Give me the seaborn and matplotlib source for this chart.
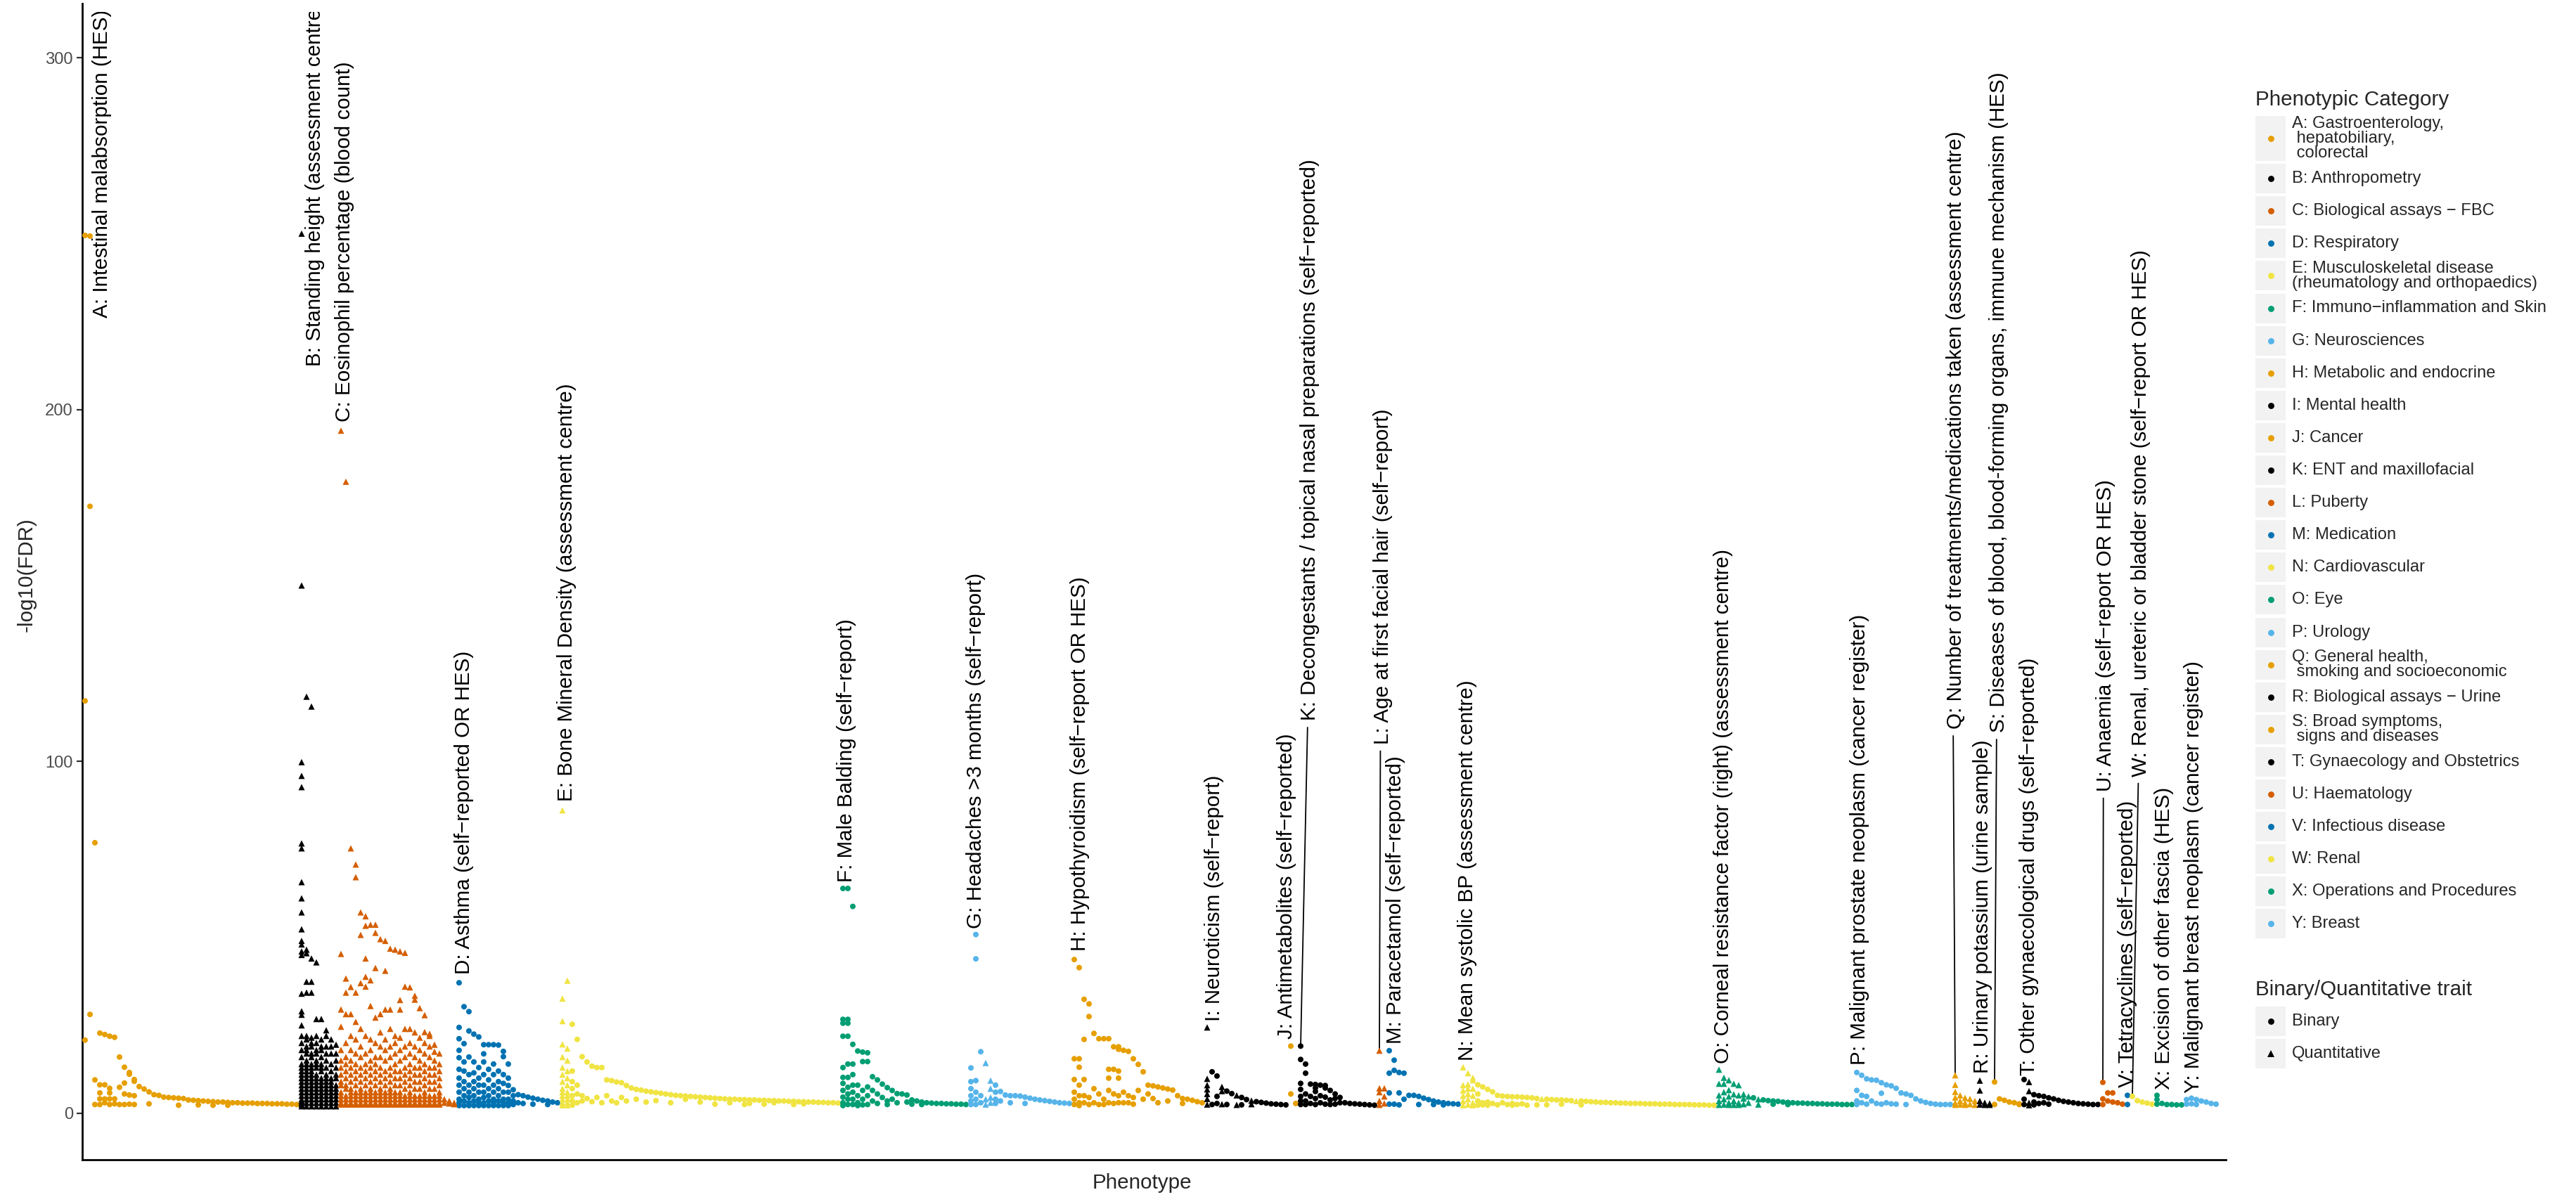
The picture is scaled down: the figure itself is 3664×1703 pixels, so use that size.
import numpy as np
import pandas as pd
import matplotlib
matplotlib.use("Agg")
import matplotlib.pyplot as plt
import seaborn as sns
from matplotlib.patches import Rectangle
from matplotlib.lines import Line2D

sns.set_theme(style="white")
plt.rcParams["font.family"] = ["Liberation Sans", "DejaVu Sans"]

W, H = 3664, 1703

# ---------------------------------------------------------------- categories
CATEGORIES = list("ABCDEFGHIJKLMNOPQRSTUVWXY")
CAT_NAMES = [
    "A: Gastroenterology,\n hepatobiliary,\n colorectal",
    "B: Anthropometry",
    "C: Biological assays \u2212 FBC",
    "D: Respiratory",
    "E: Musculoskeletal disease\n(rheumatology and orthopaedics)",
    "F: Immuno\u2212inflammation and Skin",
    "G: Neurosciences",
    "H: Metabolic and endocrine",
    "I: Mental health",
    "J: Cancer",
    "K: ENT and maxillofacial",
    "L: Puberty",
    "M: Medication",
    "N: Cardiovascular",
    "O: Eye",
    "P: Urology",
    "Q: General health,\n smoking and socioeconomic",
    "R: Biological assays \u2212 Urine",
    "S: Broad symptoms,\n signs and diseases",
    "T: Gynaecology and Obstetrics",
    "U: Haematology",
    "V: Infectious disease",
    "W: Renal",
    "X: Operations and Procedures",
    "Y: Breast",
]
CAT_COLORS = [
    "#E69F00", "#000000", "#D55E00", "#0072B2", "#F0E442", "#009E73", "#56B4E9",
    "#E69F00", "#000000", "#E69F00", "#000000", "#D55E00", "#0072B2", "#F0E442",
    "#009E73", "#56B4E9", "#E69F00", "#000000", "#E69F00", "#000000", "#D55E00",
    "#0072B2", "#F0E442", "#009E73", "#56B4E9",
]

# top phenotype per category
TOP_LABELS = [
    "A: Intestinal malabsorption (HES)",
    "B: Standing height (assessment centre)",
    "C: Eosinophil percentage (blood count)",
    "D: Asthma (self\u2212reported OR HES)",
    "E: Bone Mineral Density (assessment centre)",
    "F: Male Balding (self\u2212report)",
    "G: Headaches >3 months (self\u2212report)",
    "H: Hypothyroidism (self\u2212report OR HES)",
    "I: Neuroticism (self\u2212report)",
    "J: Antimetabolites (self\u2212reported)",
    "K: Decongestants / topical nasal preparations (self\u2212reported)",
    "L: Age at first facial hair (self\u2212report)",
    "M: Paracetamol (self\u2212reported)",
    "N: Mean systolic BP (assessment centre)",
    "O: Corneal resistance factor (right) (assessment centre)",
    "P: Malignant prostate neoplasm (cancer register)",
    "Q: Number of treatments/medications taken (assessment centre)",
    "R: Urinary potassium (urine sample)",
    "S: Diseases of blood, blood-forming organs, immune mechanism (HES)",
    "T: Other gynaecological drugs (self\u2212reported)",
    "U: Anaemia (self\u2212report OR HES)",
    "V: Tetracyclines (self\u2212reported)",
    "W: Renal, ureteric or bladder stone (self\u2212report OR HES)",
    "X: Excision of other fascia (HES)",
    "Y: Malignant breast neoplasm (cancer register)",
]

# ---------------------------------------------------------------- -log10(FDR)
# one inner list per phenotype position (all associations at that phenotype)
A_VALS = [
    [249.5, 117.2, 20.8], [249.3, 172.5, 28.1], [76.9, 9.5, 2.5],
    [22.8, 8.1, 5.8, 4.1, 2.5], [22.4, 8.1, 4.1, 3.0], [21.9, 7.1, 5.8, 4.1, 2.5],
    [21.6, 4.1, 2.7], [16.0, 7.4, 2.5], [13.1, 8.6, 5.5, 2.5], [11.6, 11.1, 5.2, 2.6],
    [9.6, 9.1, 5.0, 2.5], [7.6], [6.9], [6.1, 2.7], [5.3], [5.1], [4.6], [4.5], [4.4],
    [4.3, 2.3], [4.2], [3.8], [3.7], [3.6, 2.4], [3.5], [3.4], [3.3, 2.3], [3.2], [3.2],
    [3.1, 2.3], [3.0], [3.0], [2.9], [2.9], [2.9], [2.8], [2.8], [2.8], [2.7], [2.7],
    [2.7], [2.6], [2.6], [2.5],
]
B_VALS = [
    [250, 150, 99.8, 95.9, 92.7, 76.7, 75.3, 65.7, 61.1, 57.1, 52.3, 49.0, 48.0, 46.0,
     45.0, 34.0, 29.0, 28.0, 25.0, 22.0, 20, 18, 16, 14, 13, 12, 11, 10, 9, 8, 7, 6, 5,
     4, 3.5, 3, 2.5, 2],
    [118.4, 46.5, 45.5, 37.4, 34.3, 22, 21, 19, 18, 17, 15, 14, 13, 12, 11, 10, 9, 8, 7,
     6, 5, 4, 3, 2],
    [115.6, 44, 37.4, 34.3, 21.5, 20, 19, 17, 16, 14, 13, 12, 11, 10, 9, 8, 7, 6, 5, 4,
     3, 2],
    [42.9, 26.8, 22, 20, 18, 17, 15, 14, 13, 11, 10, 9, 8, 7, 6, 5, 4, 3, 2],
    [26.8, 21, 19, 18, 16, 14, 13, 12, 10, 9, 8, 7, 6, 5, 4, 3, 2],
    [23.6, 22, 19, 17, 15, 13, 11, 10, 9, 8, 7, 6, 5, 4, 3, 2],
    [21, 19, 17, 14, 12, 10, 9, 8, 7, 6, 5, 4, 3, 2],
    [19.5, 17, 15, 13, 11, 10, 8, 7, 6, 5, 4, 3, 2],
]
C_VALS = [
    [194, 45.3, 29.5, 24.6, 18, 15, 13, 11, 9, 8, 6, 5, 4, 3, 2.5],
    [179.5, 38.3, 34.3, 28.2, 20, 16, 14, 12, 10, 8, 7, 5, 4, 3, 2.5],
    [75.3, 35.9, 28.2, 22, 18, 15, 13, 11, 9, 7, 6, 5, 4, 3, 2.5],
    [70.7, 67.1, 34.3, 26, 21, 17, 14, 12, 10, 8, 6, 5, 4, 3, 2.5],
    [57.1, 50.7, 37, 24, 19, 16, 13, 11, 9, 7, 6, 5, 4, 3, 2.5],
    [56, 53.3, 44, 38.8, 36, 22, 17, 14, 12, 10, 8, 6, 5, 4, 3, 2.5],
    [53.6, 37.8, 30.5, 21, 18, 15, 13, 11, 9, 7, 6, 5, 4, 3, 2.5],
    [53.6, 51.3, 41.3, 27.2, 20, 16, 14, 12, 10, 8, 6, 5, 4, 3, 2.5],
    [49.5, 28.2, 23, 19, 16, 13, 11, 9, 7, 6, 5, 4, 3, 2.5],
    [49, 40.5, 29.5, 21, 18, 15, 12, 10, 8, 6, 5, 4, 3, 2.5],
    [46.8, 29.5, 24, 19, 16, 13, 11, 9, 7, 6, 5, 4, 3, 2.5],
    [46.5, 22, 20, 17, 14, 12, 10, 8, 6, 5, 4, 3, 2.5],
    [46, 32.2, 29.5, 21.5, 18, 15, 12, 10, 8, 6, 5, 4, 3, 2.5],
    [45.6, 36, 24, 19, 16, 13, 11, 9, 7, 5, 4, 3, 2.5],
    [35.8, 24, 20, 17, 14, 12, 10, 8, 6, 5, 4, 3, 2.5],
    [33.4, 32.3, 23, 19, 16, 13, 11, 9, 7, 5, 4, 3, 2.5],
    [29.9, 21.5, 18, 15, 13, 11, 9, 7, 5, 4, 3, 2.5],
    [27.9, 23.1, 20, 17, 14, 12, 10, 8, 6, 5, 4, 3, 2.5],
    [22.6, 22, 19, 16, 13, 11, 9, 7, 5, 4, 3, 2.5],
    [19.5, 17.5, 15, 13, 11, 9, 7, 5, 4, 3, 2.5],
    [17, 14, 12, 10, 8, 6, 5, 4, 3, 2.5],
    [4, 3], [3.5, 2.8], [3, 2.6],
]
D_VALS = [
    [37.1, 24.4, 21.2, 17.9, 15.8, 12.5, 10, 8, 6, 4, 3, 2.2],
    [30.3, 19.8, 14.6, 12, 9, 7, 5, 3.5, 2.2],
    [28.9, 23.4, 16, 11, 8, 6, 4.5, 3, 2.2],
    [22.5, 14.6, 11.5, 9, 7, 5, 3.5, 2.2],
    [21.7, 13, 10, 8, 6, 4, 3, 2.2],
    [19.5, 16.9, 14.6, 11, 8, 6, 4.5, 3, 2.2],
    [19.5, 12.5, 9.5, 7, 5, 3.5, 2.2],
    [19.5, 14, 11, 8, 6, 4, 3, 2.2],
    [19.4, 12, 9, 7, 5, 3.5, 2.2],
    [17.6, 16.1, 11, 8.5, 6, 4, 3, 2.2],
    [14, 10, 7.9, 6, 4, 3, 2.2],
    [6.7, 5, 3.5, 2.5], [5.3, 3.0], [5.0, 2.8], [4.6], [4.3, 2.6], [4.0], [3.7],
    [3.5, 2.5], [3.2], [3.0],
]
E_VALS = [
    [86.1, 32.6, 26.2, 19.6, 16, 13, 11, 9, 7, 6, 5, 4, 3, 2.3],
    [37.7, 18.4, 15, 12, 10, 8, 6, 5, 4, 3, 2.3],
    [25.3, 12, 9, 7, 5, 3.5, 2.3], [21, 8, 5.5, 3], [16.1, 5, 3.5], [14.6, 4.2],
    [13.4, 3.3], [13, 4.5], [13, 3.0], [9.5, 5.0], [9.3, 3.5], [8.9, 3.0], [8.7, 4.5],
    [7.9, 3.5], [7.2], [6.8, 4.0], [6.6], [6.3, 3.2], [6.1], [5.9, 3.6], [5.7], [5.5],
    [5.3, 3.0], [5.1], [5.0], [4.9, 4.0], [4.8], [4.7], [4.6, 3.2], [4.5],
    [4.4], [4.3, 2.6], [4.2], [4.1], [4.0, 3.0], [4.0], [3.9], [3.9, 2.5], [3.8, 2.8],
    [3.8], [3.7], [3.7, 2.6], [3.6], [3.6, 3.0], [3.5], [3.5], [3.4], [3.4, 2.5], [3.3],
    [3.3, 2.7], [3.2], [3.2], [3.1], [3.1], [3.0], [3.0], [2.9],
]
F_VALS = [
    [63.9, 26.7, 25.6, 21.9, 13, 10.2, 8.5, 6.5, 4.6, 3, 2.2],
    [63.9, 26.7, 25.6, 21.9, 14, 10.2, 7.4, 5.5, 4, 2.5],
    [58.8, 19.6, 14, 11, 8, 6, 4, 2.5],
    [17.7, 8, 5, 3, 2.2], [17.4, 14.7, 6.5, 4, 2.4], [17.2, 14.7, 7.5, 5, 2.5],
    [10.4, 6.5, 3.5], [9.5, 5.5, 2.8], [8.3, 4.5], [7.3, 3.5, 2.5], [6.5, 4.0],
    [5.6, 3.0], [5.5], [5.2, 3.2], [3.8, 2.6], [3.5], [3.2, 2.5], [3.0],
    [2.9], [2.8], [2.8], [2.7], [2.7], [2.6], [2.6], [2.5],
]
G_VALS = [
    [12.9, 9, 7, 5, 3.5, 2.5], [50.8, 43.9, 9.3, 6, 4, 2.5], [17.5, 5, 3],
    [14.3, 4, 2.5], [9.3, 7, 4.5, 3], [8, 6, 4, 2.8], [6.2, 3.5], [5.2], [5.0, 3],
    [5.0], [4.9], [4.6, 2.8], [4.3], [4.0], [3.8], [3.6], [3.4], [3.2], [3.0], [2.9],
    [2.8],
]
H_VALS = [
    [43.7, 15.5, 9.6, 6, 4, 2.5], [41.4, 15.5, 13.1, 8, 5, 3, 2.2], [32.4, 21, 9.6, 5, 3],
    [31.1, 27.5, 4.5, 2.5], [22.7, 7, 3], [21.2, 5.5, 2.5], [21.2, 4, 2.5],
    [21.2, 12.5, 10, 6.5, 3], [18.9, 12.5, 5.5, 2.8], [18.9, 18.2, 12, 10, 5, 3],
    [17.9, 6, 3], [17.6, 5, 3], [15.5, 4.5, 2.6], [13.9, 6.5], [11.8, 4], [8.0, 5.5],
    [7.8, 4.2], [7.5, 3.0], [7.2], [6.9, 3.5], [6.6], [5.0], [4.2, 2.8], [4.0], [3.7],
    [3.3], [3.0],
]
I_VALS = [
    [24.4, 9.8, 8, 6.8, 5.5, 4.1, 2.5], [11.8, 2.5], [10.6, 4.8, 2.8], [7.5, 6.3, 2.6],
    [6.3, 2.5], [5.6], [5.1, 2.4], [4.5, 2.4], [3.9], [3.6, 2.6], [3.3], [3.1], [2.9],
    [2.7], [2.6], [2.5], [2.4],
]
J_VALS = [[19.1, 5.5], [2.8]]
K_VALS = [
    [19.1, 15.3, 8.5, 6.8, 4.8, 3.5, 2.5], [14, 11.4, 5.5, 3.5, 2.5], [8.3, 4.8, 2.8],
    [8.2, 7.2, 6.2, 4.2, 2.5], [8.0, 5.0, 3.0], [7.9, 7.2, 4.6, 2.6], [6.5, 3.8, 2.5],
    [5.5, 4.2, 2.6], [4.5, 3.0], [3.0], [2.8], [2.7], [2.6], [2.5], [2.4], [2.3],
]
L_VALS = [[17.8, 7.1, 6.0, 3.5, 2.4], [7.1, 4.8, 2.8]]
M_VALS = [
    [17.8, 11.4, 5.8, 2.6], [15.1, 12.2, 2.6], [11.6, 5.8, 2.4], [11.4, 4.0], [5.1],
    [5.1], [4.8, 2.5], [4.3], [3.9], [3.5, 2.5], [3.2], [3.0, 2.4], [2.8], [2.7], [2.6],
]
N_VALS = [
    [13.1, 8, 6.5, 5, 3.5, 2.3], [11.4, 8.2, 7, 5.5, 4, 2.5], [10.1, 9.4, 7, 5, 3, 2.3],
    [8.1, 5.5, 3.5, 2.3], [7.5, 3.0, 2.4], [6.8, 3.2, 2.3], [6.1, 2.8], [5.1, 2.4],
    [4.9, 3.0], [4.8, 2.5], [4.7, 2.8, 2.3], [4.7, 2.5], [4.6, 2.7], [4.5, 2.3], [4.4],
    [4.2, 2.4], [4.1], [4.0, 2.4], [3.9], [3.8], [3.8, 2.6], [3.7], [3.6], [3.5],
    [3.5, 2.4], [3.4], [3.3], [3.2], [3.1], [3.1], [3.0], [3.0], [2.9], [2.9], [2.8],
    [2.8], [2.8], [2.7], [2.7], [2.7], [2.6], [2.6], [2.6], [2.5], [2.5], [2.5], [2.5],
    [2.4], [2.4], [2.4], [2.3], [2.3],
]
O_VALS = [
    [12.4, 8.4, 5.1, 3.5, 2.4], [10.1, 8.4, 6, 4, 2.5], [9.4, 6.6, 4.8, 3, 2.4],
    [8.4, 5.4, 3.5, 2.4], [8.0, 5.1, 3.0, 2.4], [5.4, 4.2, 2.6], [4.8, 3.0], [4.4],
    [4.0, 2.5], [3.8], [3.6], [3.5, 2.6], [3.4], [3.2], [3.1, 2.5], [3.0], [2.9], [2.9],
    [2.8], [2.8], [2.7], [2.7], [2.6], [2.6], [2.6], [2.5], [2.5], [2.5],
]
P_VALS = [
    [11.6, 6.5, 3.5, 2.5], [10.8, 5.1, 3.0], [9.8, 4.8, 2.6], [9.5, 3.5], [9.4, 2.8],
    [8.7, 5.7, 2.6], [8.1, 3.0], [7.8, 2.7], [7.1, 2.6], [5.8], [5.5, 2.5], [5.1],
    [4.1], [3.5], [3.1], [2.8], [2.6], [2.5], [2.5], [2.5],
]
Q_VALS = [[10.8, 8.1, 6.1, 4.5, 3, 2.4], [5.1, 3.5, 2.5], [4.4, 3, 2.4], [4.1, 2.6],
          [3.5, 2.4]]
R_VALS = [[9.3, 6.5, 3.5, 2.5], [3.0, 2.4], [2.8, 2.4]]
S_VALS = [[8.9, 2.5], [4.1], [3.7], [3.2], [3.0], [2.7, 2.5]]
T_VALS = [
    [9.6, 4, 2.5], [8.9, 6.3, 3.0, 2.3], [5.3, 3.2, 2.4], [5.0, 2.8], [4.8, 3.0],
    [4.4, 2.6], [4.1], [3.7], [3.4], [3.2], [3.0], [2.8], [2.7], [2.6], [2.5], [2.5],
]
U_VALS = [[8.8, 4.1, 2.5], [5.8, 3.5], [5.8, 3.2], [3.0], [2.6]]
V_VALS = [[5.1, 2.5]]
W_VALS = [[4.8], [3.6], [3.2], [2.9], [2.6]]
X_VALS = [[5.1, 3.9, 2.6], [2.8], [2.5], [2.5], [2.4], [2.4]]
Y_VALS = [[3.9, 2.6], [4.3, 2.7], [3.9, 2.5], [3.5], [3.2], [2.8], [2.6]]

VALUES = dict(zip(CATEGORIES, [
    A_VALS, B_VALS, C_VALS, D_VALS, E_VALS, F_VALS, G_VALS, H_VALS, I_VALS, J_VALS,
    K_VALS, L_VALS, M_VALS, N_VALS, O_VALS, P_VALS, Q_VALS, R_VALS, S_VALS, T_VALS,
    U_VALS, V_VALS, W_VALS, X_VALS, Y_VALS]))

# quantitative traits: whole categories, or selected phenotype positions
QT_ALL = {"B", "C", "L", "Q", "R"}
QT_PARTIAL = {"E": [0, 1], "G": [3, 4], "I": [0, 3, 6, 9], "N": [0, 1, 2, 16, 23],
              "O": [0, 1, 2, 3, 4, 5, 6, 8], "T": [1]}

# ---------------------------------------------------------------- long table
rows = []
start = 0
for cat in CATEGORIES:
    cols = VALUES[cat]
    for k, col in enumerate(cols):
        quant = cat in QT_ALL or k in QT_PARTIAL.get(cat, [])
        for v in col:
            rows.append((cat, start + k, v, "Quantitative" if quant else "Binary"))
    start += len(cols)
df = pd.DataFrame(rows, columns=["category", "position", "fdr", "trait"])
palette = dict(zip(CATEGORIES, CAT_COLORS))

# ---------------------------------------------------------------- figure
fig = plt.figure(figsize=(W / 100, H / 100), dpi=100)
fig.patch.set_facecolor("white")


def fx(px):
    return px / W


def fy(py):
    return 1 - py / H


ax = fig.add_axes([fx(117), fy(1650), (3166 - 117) / W, (1650 - 5) / H])

sns.scatterplot(data=df[df.trait == "Binary"], x="position", y="fdr", hue="category",
                palette=palette, marker="o", s=33, linewidth=0, legend=False, ax=ax,
                zorder=3)
sns.scatterplot(data=df[df.trait == "Quantitative"], x="position", y="fdr",
                hue="category", palette=palette, marker="^", s=42, linewidth=0,
                legend=False, ax=ax, zorder=3)

ax.set_xlim(-0.57, 435.0)
ax.set_ylim(-13.2, 315.4)
ax.set_xticks([])
ax.set_yticks([0, 100, 200, 300])
ax.tick_params(axis="y", labelsize=17.1, labelcolor="#4D4D4D", color="#333333",
               length=5.5, width=1.6, pad=4, left=True)
ax.set_xlabel("")
ax.set_ylabel("")
for side in ("top", "right"):
    ax.spines[side].set_visible(False)
for side in ("left", "bottom"):
    ax.spines[side].set_color("black")
    ax.spines[side].set_linewidth(2.0)
ax.grid(False)

fig.text(fx(1624), fy(1683), "Phenotype", ha="center", va="center", fontsize=21.3)
fig.text(fx(38), fy(818), "-log10(FDR)", ha="center", va="center", rotation=90,
         fontsize=21.3)

# ---------------------------------------------------------------- labels
LABEL_DX = [3.4, 2.7, 0.7, 1.0, 0.9, 0.7, 0.0, 1.1, 1.4, -0.9, 1.9, 0.7, 1.3, 0.9, 0.9,
            0.6, 0.1, 0.6, 0.9, 1.0, 0.6, 0.0, 1.7, 1.4, 0.4]
LABEL_Y = [226.1, 212.3, 196.5, 39.5, 88.7, 65.7, 52.5, 46.1, 26.2, 21.1, 111.6, 104.9,
           19.8, 15.0, 14.2, 13.8, 109.2, 11.4, 108.2, 10.8, 91.5, 7.3, 95.7, 6.8, 5.8]
WITH_SEGMENT = {"K", "L", "Q", "S", "U", "W"}

# labels are kept inside the panel region that starts a little below the top
label_clip = Rectangle((fx(117), fy(1650)), (3166 - 117) / W, (1650 - 17) / H,
                       transform=fig.transFigure, facecolor="none", edgecolor="none")

for i, cat in enumerate(CATEGORIES):
    sub = df[df.category == cat]
    top = sub.loc[sub.fdr.idxmax()]
    lx = top.position + LABEL_DX[i]
    ly = LABEL_Y[i]
    if cat in WITH_SEGMENT:
        ax.plot([top.position, lx - 0.5], [top.fdr, ly - 1.8], color="black", lw=1.3,
                zorder=2, solid_capstyle="butt")
    t = ax.text(lx, ly, TOP_LABELS[i], rotation=90, ha="center", va="bottom",
                fontsize=21.3, color="black", zorder=4)
    t.set_clip_path(label_clip)
    t.set_clip_on(True)

# ---------------------------------------------------------------- legends
KEY_X, KEY_W, TEXT_X = 3208, 43, 3260
fig.text(fx(KEY_X), fy(142), "Phenotypic Category", ha="left", va="center",
         fontsize=21.3)
y = 165
for i, cat in enumerate(CATEGORIES):
    h = 64 if i == 0 else 42
    fig.add_artist(Rectangle((fx(KEY_X), fy(y + h)), KEY_W / W, h / H,
                             transform=fig.transFigure, facecolor="#F2F2F2",
                             edgecolor="none"))
    yc = y + h / 2
    fig.add_artist(Line2D([fx(KEY_X + KEY_W / 2)], [fy(yc)], marker="o",
                          markersize=6.4, color=CAT_COLORS[i], linestyle="none",
                          markeredgewidth=0, transform=fig.transFigure))
    fig.text(fx(TEXT_X), fy(yc), CAT_NAMES[i], ha="left", va="center", fontsize=17.1,
             linespacing=0.92)
    y += h + 4.1

fig.text(fx(KEY_X), fy(1408), "Binary/Quantitative trait", ha="left", va="center",
         fontsize=21.3)
for j, (name, mk) in enumerate([("Binary", "o"), ("Quantitative", "^")]):
    yt = 1432 + j * 46
    fig.add_artist(Rectangle((fx(KEY_X), fy(yt + 42)), KEY_W / W, 42 / H,
                             transform=fig.transFigure, facecolor="#F2F2F2",
                             edgecolor="none"))
    fig.add_artist(Line2D([fx(KEY_X + KEY_W / 2)], [fy(yt + 21)], marker=mk,
                          markersize=6.4 if mk == "o" else 7.2, color="black",
                          linestyle="none", markeredgewidth=0,
                          transform=fig.transFigure))
    fig.text(fx(TEXT_X), fy(yt + 21), name, ha="left", va="center", fontsize=17.1)

fig.savefig("out.png", dpi=100, facecolor="white")
